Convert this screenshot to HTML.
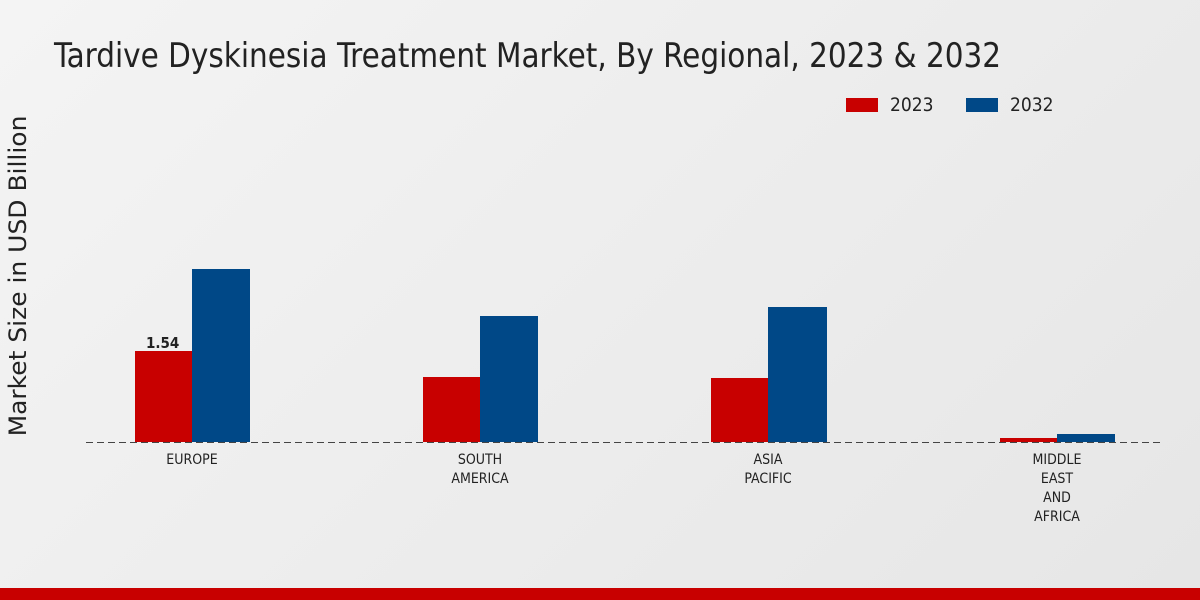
<!DOCTYPE html>
<html><head><meta charset="utf-8"><style>
html,body{margin:0;padding:0}
body{width:1200px;height:600px;position:relative;overflow:hidden;background:linear-gradient(135deg,#f4f4f4 0%,#e6e6e6 100%);font-family:"DejaVu Sans Condensed","Liberation Sans",sans-serif}
.t{position:absolute;white-space:nowrap}
.bar{position:absolute}
.r{background:#c80000}.b{background:#004887}
.xl{position:absolute;font-size:14px;text-align:center;width:120px;line-height:19px;color:#222}
</style></head><body>
<div class="t" style="left:54px;top:36px;font-size:34px;color:#222;transform:scaleX(0.965);transform-origin:left">Tardive Dyskinesia Treatment Market, By Regional, 2023 &amp; 2032</div>
<div class="bar r" style="left:846px;top:98px;width:32px;height:14px"></div>
<div class="t" style="left:890px;top:94px;font-size:19px;color:#222">2023</div>
<div class="bar b" style="left:966px;top:98px;width:32px;height:14px"></div>
<div class="t" style="left:1010px;top:94px;font-size:19px;color:#222">2032</div>
<div class="t" style="left:-142px;top:259px;font-size:24px;font-family:'DejaVu Sans',sans-serif;color:#222;transform:translateY(3px) rotate(-90deg) scaleX(1.04);width:320px;text-align:center">Market Size in USD Billion</div>
<svg style="position:absolute;left:0;top:0" width="1200" height="600"><line x1="86" y1="442.5" x2="1164" y2="442.5" stroke="#444" stroke-width="1" stroke-dasharray="7,4"/></svg>
<div class="bar r" style="left:135px;top:351px;width:57px;height:91px"></div>
<div class="bar b" style="left:192px;top:269px;width:58px;height:173px"></div>
<div class="t" style="left:146px;top:334px;font-size:15px;font-weight:bold;color:#222">1.54</div>
<div class="bar r" style="left:423px;top:377px;width:57px;height:65px"></div>
<div class="bar b" style="left:480px;top:316px;width:58px;height:126px"></div>
<div class="bar r" style="left:711px;top:378px;width:57px;height:64px"></div>
<div class="bar b" style="left:768px;top:307px;width:59px;height:135px"></div>
<div class="bar r" style="left:1000px;top:438px;width:57px;height:4px"></div>
<div class="bar b" style="left:1057px;top:434px;width:58px;height:8px"></div>
<div class="xl" style="left:132px;top:451px">EUROPE</div>
<div class="xl" style="left:420px;top:451px">SOUTH<br>AMERICA</div>
<div class="xl" style="left:708px;top:451px">ASIA<br>PACIFIC</div>
<div class="xl" style="left:997px;top:451px">MIDDLE<br>EAST<br>AND<br>AFRICA</div>
<div style="position:absolute;left:0;top:588px;width:1200px;height:12px;background:#c80000"></div>
</body></html>
